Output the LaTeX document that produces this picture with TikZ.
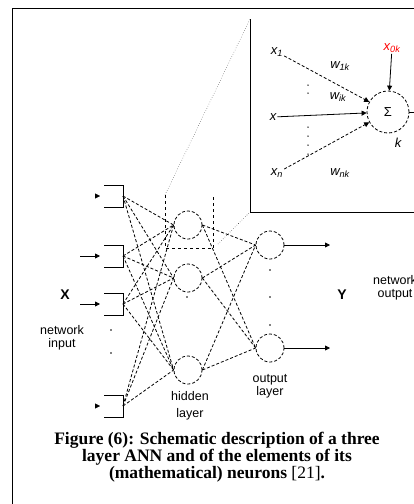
\documentclass[tikz,border=0pt]{standalone}
\usepackage{fontspec}
\setmainfont{Liberation Serif}
\newfontfamily\arialfont{Liberation Sans}
\usetikzlibrary{arrows.meta,positioning}

\begin{document}
\begin{tikzpicture}[x=1pt, y=-1pt,
    neuron/.style={circle, draw, densely dashed, thick, minimum size=28pt, inner sep=0pt},
    link/.style={densely dashed, thick},
    lbl/.style={font=\arialfont\fontsize{12.5}{13}\selectfont, align=center, inner sep=0pt},
    inlbl/.style={font=\arialfont\itshape\fontsize{13}{14}\selectfont, inner sep=1pt},
    dot/.style={fill, circle, inner sep=0pt, minimum size=1.8pt}]
    \useasboundingbox (0,0) rectangle (413,504);

    % Outer frame (right and bottom fall outside the page)
    \draw[thick] (12,520) -- (12,8) -- (430,8);

    % Input ports
    \foreach \i/\y in {1/196, 2/256, 3/304, 4/406} {
        \coordinate (in\i) at (123,\y);
        \draw[thick] (104,{\y-11}) -- (123,{\y-11}) -- (123,{\y+11}) -- (104,{\y+11});
    }
    \draw[-{Triangle[length=5pt,width=5pt]}] (95,196) -- (100,196);
    \draw[-{Triangle[length=5pt,width=5pt]}] (95,406) -- (100,406);
    \draw[thick, -{Triangle[length=5pt,width=5pt]}] (80,256) -- (100,256);
    \draw[thick, -{Triangle[length=5pt,width=5pt]}] (80,304) -- (100,304);

    % Hidden and output neurons
    \node[neuron] (h1) at (188,225) {};
    \node[neuron] (h2) at (188,278) {};
    \node[neuron] (h3) at (188,370) {};
    \node[neuron] (o1) at (270,245) {};
    \node[neuron] (o2) at (270,348) {};

    % Weights
    \foreach \i in {1,...,4}
        \foreach \j in {1,2,3}
            \draw[link] (in\i) -- (h\j.west);
    \foreach \j in {1,2,3}
        \foreach \k in {1,2}
            \draw[link] (h\j.east) -- (o\k.west);

    % Network outputs
    \coordinate (y1) at (330,245);
    \coordinate (y2) at (330,348);
    \draw[thick, -{Triangle[length=5pt,width=5pt]}] (o1.east) -- (y1);
    \draw[thick, -{Triangle[length=5pt,width=5pt]}] (o2.east) -- (y2);

    % Dots
    \foreach \p in {(111,330), (111,353), (187,297), (270,270), (270,297), (270,325)}
        \node[dot] at \p {};

    % Zoom frame round one neuron
    \draw[dashed, thick] (165,195) -- (165,248) -- (213,248);
    \draw[dashed, thick] (213,197) -- (213,250);
    \draw[dotted] (165,195) -- (250,19);
    \draw[dotted] (218,244) -- (249,213);

    % Labels
    \node[font=\arialfont\bfseries\fontsize{14}{15}\selectfont] (xlab) at (65,295) {X};
    \node[font=\arialfont\bfseries\fontsize{14}{15}\selectfont] (ylab) at (342,295) {Y};
    \node[lbl] (netin) at (62,338) {network\\input};
    \node[lbl, align=center, font=\arialfont\fontsize{12.5}{17}\selectfont] (hidlab) at (190,406) {hidden\\layer};
    \node[lbl] (outlab) at (270,386) {output\\layer};
    \node[lbl, anchor=west] (netout) at (373,288) {network\\output};

    % Inset: a single neuron
    \draw[thick] (250,19) -- (250,212) -- (430,212);
    \node[neuron, minimum size=42pt, font=\arialfont\fontsize{13}{14}\selectfont] (sum) at (388,112) {Σ};
    \node[inlbl] (x1) at (277,52) {x\textsubscript{1}};
    \node[inlbl] (xi) at (273,117) {x};
    \node[inlbl] (xn) at (277,173) {x\textsubscript{n}};
    \node[inlbl, text=red] (x0) at (392,48) {x\textsubscript{0k}};
    \coordinate (sout) at (425,112);
    \draw[link, -{Triangle[length=5pt,width=5pt]}] (x1) -- (sum);
    \draw[thick, -{Triangle[length=5pt,width=5pt]}] (xi) -- (sum);
    \draw[link, -{Triangle[length=5pt,width=5pt]}] (xn) -- (sum);
    \draw[thick, -{Triangle[length=5pt,width=5pt]}] (x0) -- (sum);
    \draw[thick] (sum) -- (sout);
    \node[inlbl] (w1) at (340,66) {w\textsubscript{1k}};
    \node[inlbl] (wi) at (338,97) {w\textsubscript{ik}};
    \node[inlbl] (wn) at (340,173) {w\textsubscript{nk}};
    \node[inlbl] (klab) at (398,143) {k};
    \foreach \y in {85, 93, 127, 136, 145, 154}
        \node[dot, minimum size=1.5pt] at (308,\y) {};

    % Caption
    \node[font=\bfseries\fontsize{17.5}{15}\selectfont, align=center] (cap) at (217,457)
        {Figure (6): Schematic description of a three\\
         layer ANN and of the elements of its\\
         (mathematical) neurons {\mdseries [21]}.};
\end{tikzpicture}
\end{document}
